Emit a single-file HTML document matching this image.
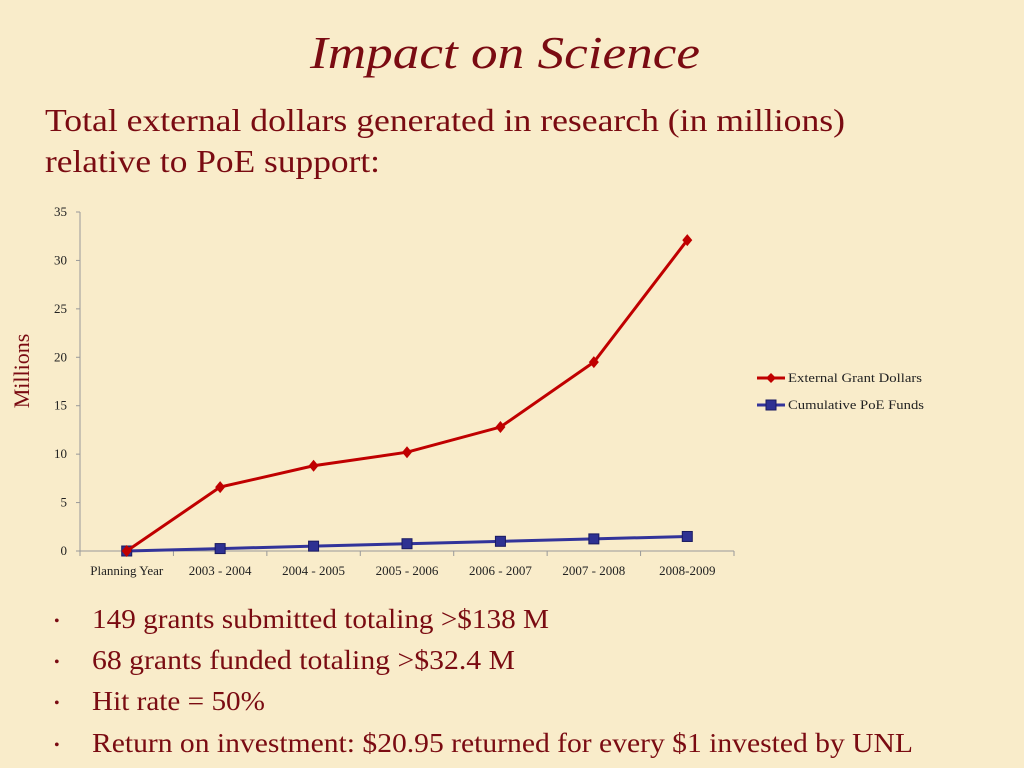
<!DOCTYPE html>
<html><head><meta charset="utf-8"><style>
body{margin:0;width:1024px;height:768px;overflow:hidden;background:#f9ecca;font-family:"Liberation Serif",serif;}
svg{display:block}
</style></head><body>
<svg id="c" width="1024" height="768" xmlns="http://www.w3.org/2000/svg">
<rect width="1024" height="768" fill="#f9ecca"/>
<text x="310" y="68" textLength="390" lengthAdjust="spacingAndGlyphs" font-size="46" font-style="italic" fill="#7a0b12">Impact on Science</text>
<text x="45" y="131" textLength="800" lengthAdjust="spacingAndGlyphs" font-size="32" fill="#7a0b12">Total external dollars generated in research (in millions)</text>
<text x="45" y="172" textLength="335" lengthAdjust="spacingAndGlyphs" font-size="32" fill="#7a0b12">relative to PoE support:</text>
<text transform="translate(29,371) rotate(-90)" text-anchor="middle" font-size="22" fill="#7a0b12">Millions</text>
<g id="chart"></g>
<g>
<g>
<line x1="757" y1="378" x2="785" y2="378" stroke="#c00000" stroke-width="3"/>
<path d="M771 373 L776 378 L771 383 L766 378 Z" fill="#c00000"/>
<text x="788" y="382" textLength="134" lengthAdjust="spacingAndGlyphs" font-size="13" fill="#222">External Grant Dollars</text></g>
<g>
<line x1="757" y1="405" x2="785" y2="405" stroke="#33349a" stroke-width="3"/>
<rect x="766" y="400" width="10" height="10" fill="#2e3192" stroke="#1a1a60"/>
<text x="788" y="409" textLength="136" lengthAdjust="spacingAndGlyphs" font-size="13" fill="#222">Cumulative PoE Funds</text></g>
</g>
<g font-size="27" fill="#7a0b12">
<text x="54" y="626" font-size="16">•</text>
<text x="92" y="628" textLength="457" lengthAdjust="spacingAndGlyphs">149 grants submitted totaling &gt;$138 M</text>
<text x="54" y="667" font-size="16">•</text>
<text x="92" y="669" textLength="423" lengthAdjust="spacingAndGlyphs">68 grants funded totaling  &gt;$32.4 M</text>
<text x="54" y="708" font-size="16">•</text>
<text x="92" y="710" textLength="173" lengthAdjust="spacingAndGlyphs">Hit rate = 50%</text>
<text x="54" y="750" font-size="16">•</text>
<text x="92" y="752" textLength="821" lengthAdjust="spacingAndGlyphs">Return on investment: $20.95 returned for every $1 invested by UNL</text>
</g>
</svg>
<script>
const categories=["Planning Year","2003 - 2004","2004 - 2005","2005 - 2006","2006 - 2007","2007 - 2008","2008-2009"];
const externalValues=[0,6.6,8.8,10.2,12.8,19.5,32.1];
const poeValues=[0,0.25,0.5,0.75,1.0,1.25,1.5];
const yTicks=[0,5,10,15,20,25,30,35];
const NS="http://www.w3.org/2000/svg";
const g=document.getElementById('chart');
const X0=80,X1=734,Y0=551,Y1=212,YMAX=35;
const band=(X1-X0)/categories.length;
const xs=i=>X0+band*(i+0.5);
const ys=v=>Y0-(v/YMAX)*(Y0-Y1);
function mk(t,a){const e=document.createElementNS(NS,t);for(const k in a)e.setAttribute(k,a[k]);g.appendChild(e);return e;}
let ax=mk('line',{x1:X0,y1:Y1,x2:X0,y2:Y0,stroke:'#999'});


let bx=mk('line',{x1:X0,y1:Y0,x2:X1,y2:Y0,stroke:'#999'});


yTicks.forEach(v=>{
 const y=ys(v);
 mk('line',{x1:X0-4,y1:y,x2:X0,y2:y,stroke:'#999'});
 const t=mk('text',{x:X0-13,y:y+4,'text-anchor':'end','font-size':13,fill:'#222'});
 t.textContent=v;
 
 
});
for(let i=0;i<=categories.length;i++){const x=X0+band*i;mk('line',{x1:x,y1:Y0,x2:x,y2:Y0+5,stroke:'#999'});}
categories.forEach((c,i)=>{
 const t=mk('text',{x:xs(i),y:Y0+24,'text-anchor':'middle','font-size':13,fill:'#222'});
 t.textContent=c;
 
 
});
function series(vals,color,marker,name){
 const p=mk('polyline',{points:vals.map((v,i)=>xs(i)+','+ys(v)).join(' '),fill:'none',stroke:color,'stroke-width':3});
 
 
 vals.forEach((v,i)=>{
  const x=xs(i),y=ys(v);let m;
  if(marker==='d')m=mk('path',{d:`M${x} ${y-6}L${x+5} ${y}L${x} ${y+6}L${x-5} ${y}Z`,fill:color});
  else m=mk('rect',{x:x-5,y:y-5,width:10,height:10,fill:'#2e3192',stroke:'#1a1a60'});
  
  
 });
}
series(poeValues,'#33349a','s','poe-funds');
series(externalValues,'#c00000','d','external-grant');
</script>
</body></html>
